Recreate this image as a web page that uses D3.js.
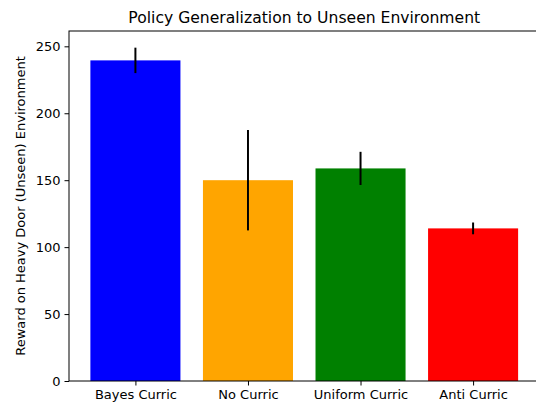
<!DOCTYPE html>
<html>
<head>
<meta charset="utf-8">
<script src="https://cdn.jsdelivr.net/npm/d3@7"></script>
<style>
  body { margin: 0; background: #fff; }
  text { font-family: "DejaVu Sans", sans-serif; fill: #000; }
</style>
</head>
<body>
<svg id="chart" width="536" height="406"></svg>
<script>
var categories = ["Bayes Curric", "No Curric", "Uniform Curric", "Anti Curric"];
var means = [239.5, 150, 158.8, 114];
var errors = [9.5, 37.5, 12.4, 4.4];
var colors = ["blue", "orange", "green", "red"];
var yTicks = [0, 50, 100, 150, 200, 250];

var svg = d3.select("#chart");
// right spine sits just past the picture's edge, as in the original
var axLeft = 69, axRight = 539.5, axTop = 31, axBottom = 381;

// matplotlib-like autoscale: 5% margins
var ymaxData = d3.max(means.map(function (m, i) { return m + errors[i]; }));
var y = d3.scaleLinear().domain([0, ymaxData * 1.05]).range([axBottom, axTop]);
var x = d3.scaleLinear().domain([-0.59, categories.length - 1 + 0.59]).range([axLeft, axRight]);
var bw = x(0.4) - x(0);

var g = svg.append("g");

g.selectAll("rect.bar")
  .data(means)
  .enter().append("rect")
  .attr("class", "bar")
  .attr("x", function (d, i) { return x(i) - bw; })
  .attr("width", bw * 2)
  .attr("y", function (d) { return y(d); })
  .attr("height", function (d) { return y(0) - y(d); })
  .attr("fill", function (d, i) { return colors[i]; });

g.selectAll("line.err")
  .data(means)
  .enter().append("line")
  .attr("class", "err")
  .attr("x1", function (d, i) { return x(i); })
  .attr("x2", function (d, i) { return x(i); })
  .attr("y1", function (d, i) { return y(d + errors[i]); })
  .attr("y2", function (d, i) { return y(d - errors[i]); })
  .attr("stroke", "black")
  .attr("stroke-width", 2);

// axes
var yAxis = d3.axisLeft(y).tickValues(yTicks).tickSize(4.5).tickPadding(4);
var ya = svg.append("g").attr("transform", "translate(" + axLeft + ",0)").call(yAxis);
ya.select(".domain").remove();
ya.selectAll("text").style("font-size", "13px");

var xAxis = d3.axisBottom(x).tickValues(d3.range(categories.length))
  .tickFormat(function (i) { return categories[i]; }).tickSize(4.5).tickPadding(4);
var xa = svg.append("g").attr("transform", "translate(0," + axBottom + ")").call(xAxis);
xa.select(".domain").remove();
xa.selectAll("text").style("font-size", "13px");

svg.append("rect")
  .attr("x", axLeft).attr("y", axTop)
  .attr("width", axRight - axLeft).attr("height", axBottom - axTop)
  .attr("fill", "none").attr("stroke", "black").attr("stroke-width", 1);

svg.append("text")
  .attr("x", (axLeft + axRight) / 2).attr("y", 23)
  .attr("text-anchor", "middle")
  .style("font-size", "15.6px")
  .text("Policy Generalization to Unseen Environment");

svg.append("text")
  .attr("transform", "translate(25," + ((axTop + axBottom) / 2) + ") rotate(-90)")
  .attr("text-anchor", "middle")
  .style("font-size", "13px")
  .text("Reward on Heavy Door (Unseen) Environment");
</script>
</body>
</html>
